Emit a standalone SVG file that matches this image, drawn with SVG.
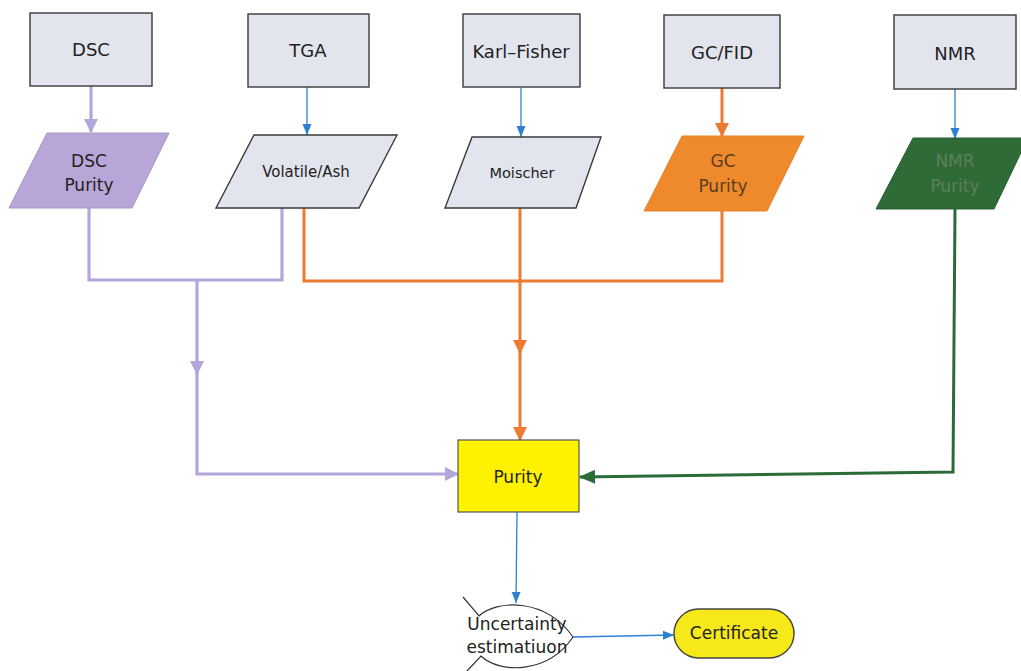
<svg xmlns="http://www.w3.org/2000/svg" width="1021" height="671" viewBox="0 0 1021 671">
  <style>
    .box { fill: #e3e5ee; stroke: #3a3a3a; stroke-width: 1.4; }
    .lbl { font-family: "DejaVu Sans", "Liberation Sans", sans-serif; fill: #222; text-anchor: middle; }
    .big { font-size: 18px; }
    .mid { font-size: 17px; }
    .sm { font-size: 15px; }
    .purple { fill: none; stroke: #b3a6dc; stroke-width: 3.2; }
    .orange { fill: none; stroke: #ec7a30; stroke-width: 3; }
    .green { fill: none; stroke: #2b6b38; stroke-width: 3; }
    .blue { fill: none; stroke: #2f80d0; stroke-width: 1.3; }
  </style>
  <defs>
    <marker id="ah-purple" markerUnits="userSpaceOnUse" markerWidth="16" markerHeight="16" viewBox="0 0 16 16" refX="14" refY="8" orient="auto">
      <path d="M1,1 L15,8 L1,15 Z" fill="#b3a6dc"/>
    </marker>
    <marker id="ah-orange" markerUnits="userSpaceOnUse" markerWidth="16" markerHeight="16" viewBox="0 0 16 16" refX="14" refY="8" orient="auto">
      <path d="M1,1 L15,8 L1,15 Z" fill="#ec7a30"/>
    </marker>
    <marker id="ah-green" markerUnits="userSpaceOnUse" markerWidth="18" markerHeight="16" viewBox="0 0 18 16" refX="16" refY="8" orient="auto">
      <path d="M1,1 L17,8 L1,15 Z" fill="#2b6b38"/>
    </marker>
    <marker id="ah-blue" markerUnits="userSpaceOnUse" markerWidth="12" markerHeight="10" viewBox="0 0 12 10" refX="11" refY="5" orient="auto">
      <path d="M0,0.5 L11,5 L0,9.5 Z" fill="#2f80d0"/>
    </marker>
  </defs>

  <rect width="1021" height="671" fill="#ffffff"/>

  <!-- connectors -->
  <g id="connectors">
    <!-- instrument to result -->
    <path class="purple" d="M91,86 V132" marker-end="url(#ah-purple)"/>
    <path class="blue" d="M307,87 V135" marker-end="url(#ah-blue)"/>
    <path class="blue" d="M521,88 V137" marker-end="url(#ah-blue)"/>
    <path class="orange" d="M722,88 V136" marker-end="url(#ah-orange)"/>
    <path class="blue" d="M955,89 V139" marker-end="url(#ah-blue)"/>

    <!-- DSC and volatile merge (purple) -->
    <path class="purple" d="M89,208 V280 H282 V208"/>
    <path class="purple" d="M197,280 V374" marker-end="url(#ah-purple)"/>
    <path class="purple" d="M197,372 V474 H458" marker-end="url(#ah-purple)"/>

    <!-- volatile, moisture and GC merge (orange) -->
    <path class="orange" d="M304,208 V281 H722 V211"/>
    <path class="orange" d="M520,208 V353" marker-end="url(#ah-orange)"/>
    <path class="orange" d="M520,350 V440" marker-end="url(#ah-orange)"/>

    <!-- NMR result (green) -->
    <path class="green" d="M955,209 L953,472 L580,477" marker-end="url(#ah-green)"/>

    <!-- downstream -->
    <path class="blue" d="M517,512 L516,603" marker-end="url(#ah-blue)"/>
    <path class="blue" d="M573,637 L674,635" marker-end="url(#ah-blue)"/>
  </g>

  <!-- instrument boxes -->
  <g id="node-dsc">
    <rect class="box" x="30" y="13" width="122" height="73"/>
    <text class="lbl big" x="91" y="56">DSC</text>
  </g>
  <g id="node-tga">
    <rect class="box" x="248" y="14" width="121" height="73"/>
    <text class="lbl big" x="308" y="57">TGA</text>
  </g>
  <g id="node-kf">
    <rect class="box" x="463" y="14" width="117" height="73"/>
    <text class="lbl big" x="521" y="58">Karl–Fisher</text>
  </g>
  <g id="node-gcfid">
    <rect class="box" x="664" y="15" width="116" height="73"/>
    <text class="lbl big" x="722" y="59">GC/FID</text>
  </g>
  <g id="node-nmr">
    <rect class="box" x="894" y="15" width="122" height="74"/>
    <text class="lbl big" x="955" y="60">NMR</text>
  </g>

  <!-- result parallelograms -->
  <g id="node-dsc-purity">
    <polygon points="47,133 169,133 132,208 9,208" fill="#b9a6d8" stroke="#a794c9" stroke-width="1"/>
    <text class="lbl mid" x="89" y="167">DSC</text>
    <text class="lbl mid" x="89" y="191">Purity</text>
  </g>
  <g id="node-volatile">
    <polygon points="254,135 397,135 359,208 216,208" class="box"/>
    <text class="lbl sm" x="306" y="177">Volatile/Ash</text>
  </g>
  <g id="node-moisture">
    <polygon points="472,137 601,137 576,208 445,208" class="box"/>
    <text class="lbl" style="font-size:14.5px" x="522" y="178">Moischer</text>
  </g>
  <g id="node-gc-purity">
    <polygon points="682,136 804,136 767,211 644,211" fill="#ee8a2c" stroke="#e8822a" stroke-width="1"/>
    <text class="lbl mid" x="723" y="167" style="fill:#5a3d22">GC</text>
    <text class="lbl mid" x="723" y="192" style="fill:#5a3d22">Purity</text>
  </g>
  <g id="node-nmr-purity">
    <polygon points="913,138 1028,138 994,209 876,209" fill="#2e6b36" stroke="#285f30" stroke-width="1"/>
    <text class="lbl mid" x="955" y="167" style="fill:#5e7e60">NMR</text>
    <text class="lbl mid" x="955" y="192" style="fill:#5e7e60">Purity</text>
  </g>

  <!-- combined purity -->
  <g id="node-purity">
    <rect x="458" y="440" width="121" height="72" fill="#fff200" stroke="#555" stroke-width="1.2"/>
    <text class="lbl mid" x="518" y="483">Purity</text>
  </g>

  <!-- uncertainty estimation -->
  <g id="node-uncertainty">
    <path d="M463,597 L479,616 C496,600 545,597 573,637 C548,674 500,674 481,656 L467,671" fill="none" stroke="#333" stroke-width="1.2"/>
    <text class="lbl mid" x="517" y="630">Uncertainty</text>
    <text class="lbl mid" x="517" y="653">estimatiuon</text>
  </g>

  <!-- certificate -->
  <g id="node-certificate">
    <rect x="674" y="609" width="120" height="49" rx="24.5" fill="#f7e81a" stroke="#444" stroke-width="1.4"/>
    <text class="lbl mid" x="734" y="639">Certificate</text>
  </g>
</svg>
